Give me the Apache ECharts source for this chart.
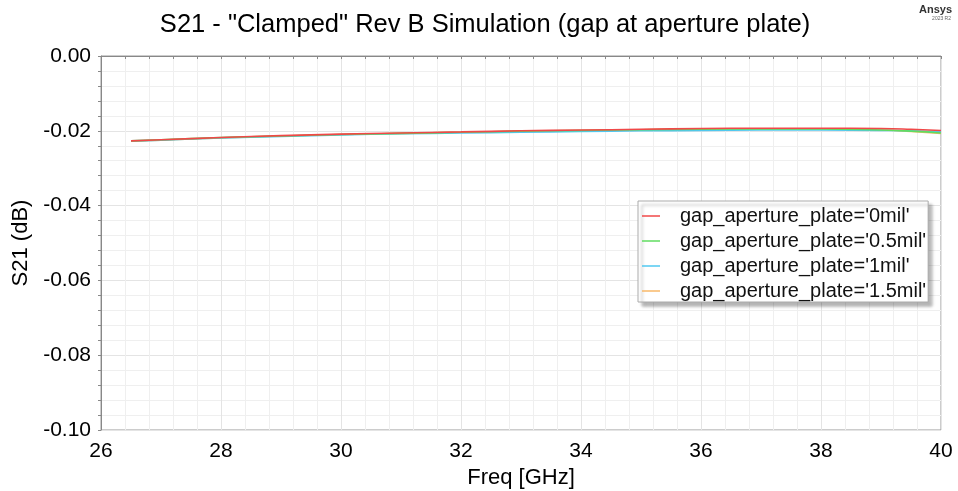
<!DOCTYPE html>
<html><head><meta charset="utf-8">
<script src="https://cdn.jsdelivr.net/npm/echarts@6/dist/echarts.min.js"></script>
<style>html,body{margin:0;padding:0;background:#fff}#c{width:958px;height:491px}</style>
</head><body><div id="c"></div>
<script>
const freq = [26.5, 27, 28, 29, 30, 31, 32, 33, 34, 35, 36, 37, 37.5, 38, 39, 39.5, 40];
const s0mil   = [-0.0227,-0.0224,-0.0218,-0.0213,-0.0209,-0.0206,-0.0203,-0.0200,-0.0198,-0.0196,-0.0194,-0.0193,-0.0193,-0.0193,-0.0194,-0.0196,-0.0199];
const s05mil  = [-0.0227,-0.0224,-0.0218,-0.0214,-0.0210,-0.0207,-0.0204,-0.0201,-0.0199,-0.0197,-0.0196,-0.0195,-0.0195,-0.0195,-0.0198,-0.0201,-0.0206];
const s1mil   = [-0.0227,-0.0225,-0.0219,-0.0215,-0.0211,-0.0208,-0.0206,-0.0204,-0.0202,-0.0200,-0.0199,-0.0198,-0.0198,-0.0198,-0.0199,-0.0200,-0.0203];
const s15mil  = [-0.0228,-0.0225,-0.0219,-0.0214,-0.0210,-0.0207,-0.0204,-0.0201,-0.0199,-0.0197,-0.0195,-0.0195,-0.0195,-0.0195,-0.0198,-0.0202,-0.0207];
const names = ["gap_aperture_plate='0mil'","gap_aperture_plate='0.5mil'","gap_aperture_plate='1mil'","gap_aperture_plate='1.5mil'"];
const colors = ['#f04848','#60dd60','#50c8f0','#f8b868'];
const seriesVals = [s0mil, s05mil, s1mil, s15mil];

const chart = echarts.init(document.getElementById('c'));
const font = 'Liberation Sans, Arial, sans-serif';
const drawOrder = [3, 2, 1, 0];
chart.setOption({
  animation: false,
  title: [{
    text: 'S21 - "Clamped" Rev B Simulation (gap at aperture plate)',
    left: 480, top: 7, textAlign: 'center',
    textStyle: {fontFamily: font, fontSize: 25.5, fontWeight: 'normal', color: '#000'}
  }],
  graphic: [{
    type: 'text', right: 6, top: 4,
    style: {text: 'Ansys', font: 'bold 11px ' + font, fill: '#333'}
  },{
    type: 'text', right: 7, top: 16,
    style: {text: '2023 R2', font: '5px ' + font, fill: '#666'}
  }],
  grid: {left: 101, right: 17, top: 56, bottom: 61, show: true, borderColor: '#999', borderWidth: 1,
         containLabel: false, outerBoundsMode: 'none'},
  legend: {
    data: names, orient: 'vertical', left: 638, top: 201,
    backgroundColor: '#fff', borderColor: '#aaa', borderWidth: 1,
    shadowColor: 'rgba(0,0,0,0.3)', shadowOffsetX: 4, shadowOffsetY: 4, shadowBlur: 3,
    padding: [5, 2, 1, 4], itemGap: 5, itemWidth: 18, itemHeight: 1.5,
    icon: 'rect',
    textStyle: {fontFamily: font, fontSize: 20, color: '#111', padding: [0, 0, 0, 15]}
  },
  xAxis: {
    type: 'value', min: 26, max: 40, interval: 2,
    name: 'Freq [GHz]', nameLocation: 'middle', nameGap: 37,
    nameTextStyle: {fontFamily: font, fontSize: 22, color: '#000'},
    axisLine: {lineStyle: {color: '#888'}},
    axisTick: {show: true, length: 3, lineStyle: {color: '#888'}},
    minorTick: {show: true, splitNumber: 5, length: 3, lineStyle: {color: '#888'}},
    splitLine: {show: true, lineStyle: {color: '#e4e4e4'}},
    minorSplitLine: {show: true, lineStyle: {color: '#efefef'}},
    axisLabel: {fontFamily: font, fontSize: 21, color: '#000', margin: 11}
  },
  yAxis: {
    type: 'value', min: -0.1, max: 0, interval: 0.02,
    name: 'S21 (dB)', nameLocation: 'middle', nameGap: 66, nameRotate: 90,
    nameTextStyle: {fontFamily: font, fontSize: 22, color: '#000'},
    axisLine: {show: true, lineStyle: {color: '#888'}},
    axisTick: {show: true, length: 3, lineStyle: {color: '#888'}},
    minorTick: {show: true, splitNumber: 5, length: 3, lineStyle: {color: '#888'}},
    splitLine: {show: true, lineStyle: {color: '#e4e4e4'}},
    minorSplitLine: {show: true, lineStyle: {color: '#efefef'}},
    axisLabel: {fontFamily: font, fontSize: 21, color: '#000', margin: 10,
      formatter: v => (Math.abs(v) < 1e-9 ? 0 : v).toFixed(2)}
  },
  series: drawOrder.map(i => ({
    name: names[i], type: 'line', showSymbol: false, smooth: true,
    itemStyle: {color: colors[i]},
    lineStyle: {color: colors[i], width: 1.6},
    data: freq.map((f, k) => [f, seriesVals[i][k]])
  }))
});
</script></body></html>
